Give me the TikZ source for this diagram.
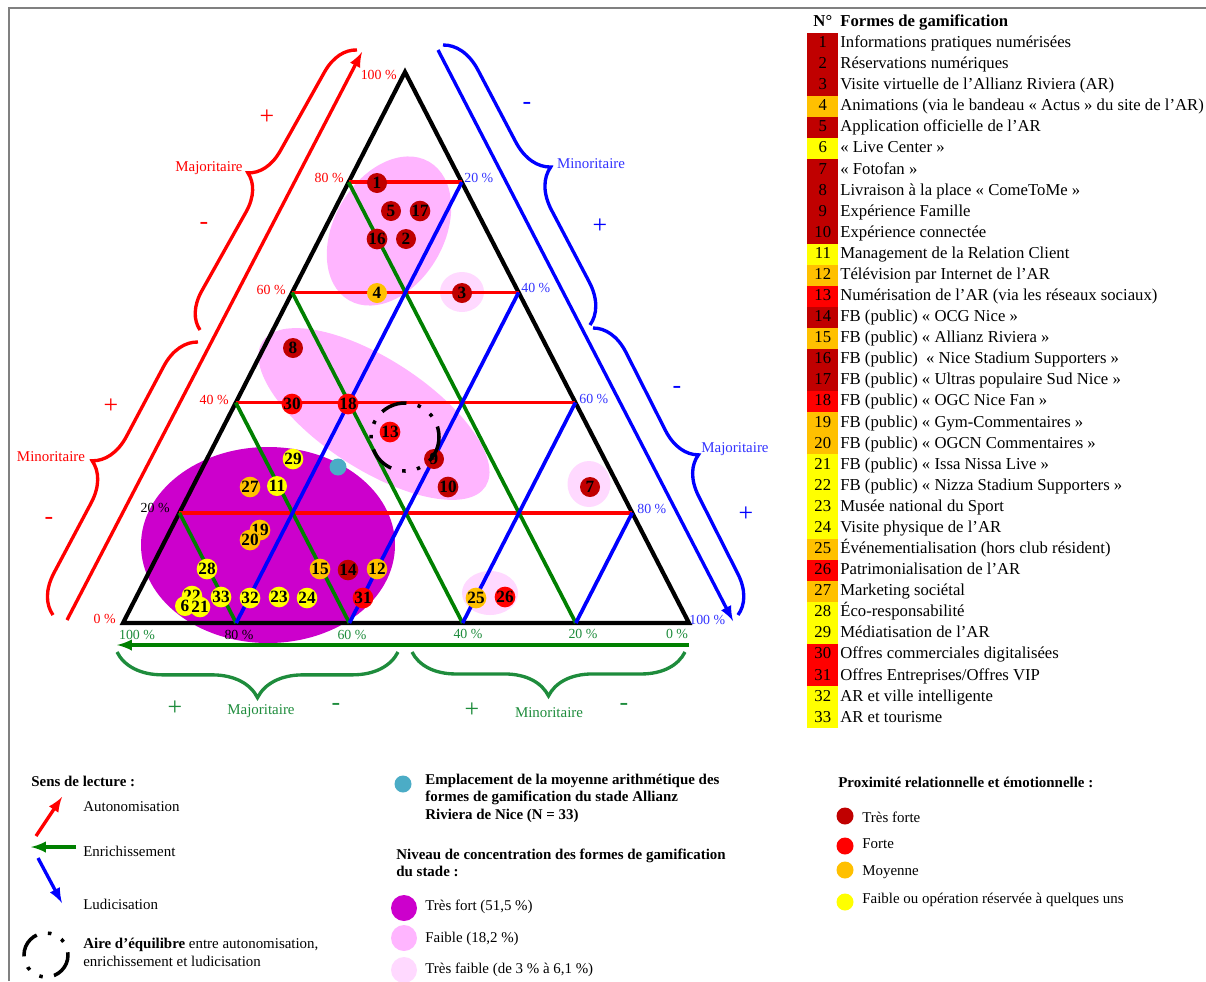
\PassOptionsToPackage{table}{xcolor}
\documentclass[tikz,border=0pt]{standalone}
\usepackage{fontspec}
\setmainfont{Liberation Serif}
\usepackage{colortbl}
\usetikzlibrary{calc,decorations.pathreplacing,positioning}

\definecolor{tresforte}{HTML}{C00000}
\definecolor{forte}{HTML}{FF0000}
\definecolor{moyenne}{HTML}{FFC000}
\definecolor{faible}{HTML}{FFFF00}
\definecolor{concfort}{HTML}{CC00CC}
\definecolor{concfaible}{HTML}{FFB5FF}
\definecolor{conctresfaible}{HTML}{FFD9FF}
\definecolor{moyen}{HTML}{4BACC6}
\definecolor{rouge}{HTML}{FF0000}
\definecolor{vert}{HTML}{008000}
\definecolor{verttxt}{HTML}{1E8C3C}
\definecolor{bleu}{HTML}{0000FF}
\definecolor{bleutxt}{HTML}{3333FF}

\tikzset{
	forme/.style={circle,inner sep=0pt,minimum size=0.4cm,font=\fontsize{9.8}{10}\selectfont\bfseries},
	puce/.style={circle,inner sep=0pt,minimum size=0.34cm},
	pct/.style={inner sep=0pt,font=\fontsize{7.9}{9}\selectfont},
	signe/.style={inner sep=0pt,font=\fontsize{14.7}{15}\selectfont},
	bras/.style={inner sep=0pt,font=\fontsize{8.5}{10}\selectfont},
	legende/.style={inner sep=0pt,anchor=west,align=left,font=\fontsize{8.5}{10.2}\selectfont},
	legendeb/.style={legende,font=\fontsize{8.5}{9.9}\selectfont\bfseries},
	grille/.style={line width=2.1pt},
	fleche/.style={->,line width=1.9pt},
	accolade/.style={decorate,line width=1.9pt},
	equilibre/.style={line width=2pt,dash pattern=on 15pt off 6.5pt on 2pt off 6.5pt on 2pt off 6.5pt}
}

\begin{document}
\begin{tikzpicture}[x=0.02cm,y=-0.02cm,>=latex]
	\useasboundingbox (0,0) rectangle (1206,981);
	\draw[gray,line width=0.8pt] (9,981) -- (9,8) -- (1206,8);

	% concentration areas
	\fill[concfort] (268,545) ellipse [x radius=127,y radius=98];
	\fill[concfaible,rotate around={60:(389,231)}] (389,231) ellipse [x radius=80,y radius=55];
	\fill[concfaible,rotate around={-33:(374,414)}] (374,414) ellipse [x radius=133,y radius=55];
	\fill[conctresfaible] (462,292) ellipse [x radius=22,y radius=20];
	\fill[conctresfaible] (589,484) ellipse [x radius=21.5,y radius=23];
	\fill[conctresfaible] (490,593) ellipse [x radius=28,y radius=22];

	% triangle
	\coordinate (A) at (123,623);
	\coordinate (B) at (689,623);
	\coordinate (C) at (405,72);
	\draw[line width=2.4pt] (A) -- (B) -- (C) -- cycle;

	\coordinate (l1) at ($(A)!0.2!(C)$);
	\coordinate (l2) at ($(A)!0.4!(C)$);
	\coordinate (l3) at ($(A)!0.6!(C)$);
	\coordinate (l4) at ($(A)!0.8!(C)$);
	\coordinate (r1) at ($(B)!0.2!(C)$);
	\coordinate (r2) at ($(B)!0.4!(C)$);
	\coordinate (r3) at ($(B)!0.6!(C)$);
	\coordinate (r4) at ($(B)!0.8!(C)$);
	\coordinate (b1) at ($(A)!0.2!(B)$);
	\coordinate (b2) at ($(A)!0.4!(B)$);
	\coordinate (b3) at ($(A)!0.6!(B)$);
	\coordinate (b4) at ($(A)!0.8!(B)$);

	% draw the grid
	\draw[grille,rouge] (l1) -- (r1);
	\draw[grille,rouge] (l2) -- (r2);
	\draw[grille,rouge] (l3) -- (r3);
	\draw[grille,rouge] (l4) -- (r4);
	\draw[grille,vert] (b1) -- (l1);
	\draw[grille,vert] (b2) -- (l2);
	\draw[grille,vert] (b3) -- (l3);
	\draw[grille,vert] (b4) -- (l4);
	\draw[grille,bleu] (b1) -- (r4);
	\draw[grille,bleu] (b2) -- (r3);
	\draw[grille,bleu] (b3) -- (r2);
	\draw[grille,bleu] (b4) -- (r1);

	% scale labels
	\node[pct,rouge,anchor=east] (ra100) at (397,75) {100 \%};
	\node[pct,rouge,anchor=east] (ra80) at (344,178) {80 \%};
	\node[pct,rouge,anchor=east] (ra60) at (286,290) {60 \%};
	\node[pct,rouge,anchor=east] (ra40) at (229,400) {40 \%};
	\node[pct,anchor=east] (ra20) at (170,508) {20 \%};
	\node[pct,rouge,anchor=east] (ra0) at (116,619) {0 \%};
	\node[pct,bleutxt,anchor=west] (lu20) at (464,178) {20 \%};
	\node[pct,bleutxt,anchor=west] (lu40) at (521,288) {40 \%};
	\node[pct,bleutxt,anchor=west] (lu60) at (579,399) {60 \%};
	\node[pct,bleutxt,anchor=west] (lu80) at (637,509) {80 \%};
	\node[pct,bleutxt,anchor=west] (lu100) at (689,620) {100 \%};
	\node[pct,verttxt] (en100) at (137,635) {100 \%};
	\node[pct] (en80) at (239,635) {80 \%};
	\node[pct,verttxt] (en60) at (352,635) {60 \%};
	\node[pct,verttxt] (en40) at (468,634) {40 \%};
	\node[pct,verttxt] (en20) at (583,634) {20 \%};
	\node[pct,verttxt] (en0) at (677,634) {0 \%};

	% reading arrows
	\coordinate (autoS) at (67,620);
	\coordinate (autoE) at (362,52);
	\coordinate (ludiS) at (438,50);
	\coordinate (ludiE) at (733,621);
	\coordinate (enriS) at (689,645);
	\coordinate (enriE) at (117,645);
	\draw[fleche,rouge] (autoS) -- (autoE);
	\draw[fleche,bleu] (ludiS) -- (ludiE);
	\draw[fleche,vert] (enriS) -- (enriE);

	% braces
	\draw[accolade,rouge,decoration={brace,amplitude=20pt}] (200,330) -- (357,50);
	\draw[accolade,rouge,decoration={brace,amplitude=21.5pt}] (53,615) -- (198,342);
	\draw[accolade,bleu,decoration={brace,amplitude=22pt}] (443,45) -- (590,325);
	\draw[accolade,bleu,decoration={brace,amplitude=21pt}] (593,328) -- (738,615);
	\draw[accolade,verttxt,decoration={brace,mirror,amplitude=26pt}] (117,652) -- (398,652);
	\draw[accolade,verttxt,decoration={brace,mirror,amplitude=25pt}] (412,652) -- (685,652);

	\node[signe,rouge] (rp1) at (267,117) {+};
	\node[signe,rouge] (rm1) at (204,226) {-};
	\node[bras,rouge] (rmaj) at (209,168) {Majoritaire};
	\node[signe,rouge] (rp2) at (111,406) {+};
	\node[signe,rouge] (rm2) at (49,521) {-};
	\node[bras,rouge] (rmin) at (51,457) {Minoritaire};
	\node[signe,bleu] (bm1) at (527,106) {-};
	\node[bras,bleutxt] (bmin) at (591,164) {Minoritaire};
	\node[signe,bleu] (bp1) at (600,226) {+};
	\node[signe,bleu] (bm2) at (677,390) {-};
	\node[bras,bleutxt] (bmaj) at (735,449) {Majoritaire};
	\node[signe,bleu] (bp2) at (746,514) {+};
	\node[signe,verttxt] (vp1) at (175,708) {+};
	\node[bras,verttxt] (vmaj) at (261,711) {Majoritaire};
	\node[signe,verttxt] (vm1) at (336,707) {-};
	\node[signe,verttxt] (vp2) at (472,710) {+};
	\node[bras,verttxt] (vmin) at (549,713) {Minoritaire};
	\node[signe,verttxt] (vm2) at (624,707) {-};

	% forms of gamification
	\node[puce,fill=moyen] (moy) at (338,467) {};
	\node[forme,fill=tresforte] (p1) at (377,183) {1};
	\node[forme,fill=tresforte] (p5) at (391,211) {5};
	\node[forme,fill=tresforte] (p17) at (420,211) {17};
	\node[forme,fill=tresforte] (p16) at (377,239) {16};
	\node[forme,fill=tresforte] (p2) at (406,239) {2};
	\node[forme,fill=moyenne] (p4) at (377,293) {4};
	\node[forme,fill=tresforte] (p3) at (462,293) {3};
	\node[forme,fill=tresforte] (p8) at (293,348) {8};
	\node[forme,fill=forte] (p30) at (292,404) {30};
	\node[forme,fill=forte] (p18) at (348,404) {18};
	\node[forme,fill=forte] (p13) at (390,432) {13};
	\node[forme,fill=tresforte] (p9) at (434,459) {9};
	\node[forme,fill=tresforte] (p10) at (448,487) {10};
	\node[forme,fill=tresforte] (p7) at (590,487) {7};
	\node[forme,fill=faible] (p29) at (293,459) {29};
	\node[forme,fill=moyenne] (p27) at (250,487) {27};
	\node[forme,fill=faible] (p11) at (277,486) {11};
	\node[forme,fill=moyenne] (p19) at (260,530) {19};
	\node[forme,fill=moyenne] (p20) at (250,540) {20};
	\node[forme,fill=faible] (p28) at (207,569) {28};
	\node[forme,fill=moyenne] (p15) at (320,569) {15};
	\node[forme,fill=tresforte] (p14) at (348,570) {14};
	\node[forme,fill=moyenne] (p12) at (377,569) {12};
	\node[forme,fill=faible] (p22) at (192,596) {22};
	\node[forme,fill=faible] (p6) at (185,606) {6};
	\node[forme,fill=faible] (p21) at (200,607) {21};
	\node[forme,fill=faible] (p33) at (221,597) {33};
	\node[forme,fill=faible] (p32) at (250,598) {32};
	\node[forme,fill=faible] (p23) at (279,597) {23};
	\node[forme,fill=faible] (p24) at (307,598) {24};
	\node[forme,fill=forte] (p31) at (363,598) {31};
	\node[forme,fill=moyenne] (p25) at (476,598) {25};
	\node[forme,fill=forte] (p26) at (505,597) {26};
	\draw[equilibre] (405,437) circle [radius=34];

	% list of the forms
	\node (liste)[anchor=north west,inner sep=0pt,font=\fontsize{9.5}{12}\selectfont] at (807,11.3){%
		\setlength{\tabcolsep}{0pt}%
		\begin{tabular}{>{\centering\arraybackslash}p{17.6pt}>{\hspace{1.2pt}}l}
		\textbf{N°} & \textbf{Formes de gamification}\\
		\cellcolor{tresforte}1 & Informations pratiques numérisées\\
		\cellcolor{tresforte}2 & Réservations numériques\\
		\cellcolor{tresforte}3 & Visite virtuelle de l'Allianz Riviera (AR)\\
		\cellcolor{moyenne}4 & Animations (via le bandeau « Actus » du site de l'AR)\\
		\cellcolor{tresforte}5 & Application officielle de l'AR\\
		\cellcolor{faible}6 & « Live Center »\\
		\cellcolor{tresforte}7 & « Fotofan »\\
		\cellcolor{tresforte}8 & Livraison à la place « ComeToMe »\\
		\cellcolor{tresforte}9 & Expérience Famille\\
		\cellcolor{tresforte}10 & Expérience connectée\\
		\cellcolor{faible}11 & Management de la Relation Client\\
		\cellcolor{moyenne}12 & Télévision par Internet de l'AR\\
		\cellcolor{forte}13 & Numérisation de l'AR (via les réseaux sociaux)\\
		\cellcolor{tresforte}14 & FB (public) « OCG Nice »\\
		\cellcolor{moyenne}15 & FB (public) « Allianz Riviera »\\
		\cellcolor{tresforte}16 & FB (public)\ \ « Nice Stadium Supporters »\\
		\cellcolor{tresforte}17 & FB (public) « Ultras populaire Sud Nice »\\
		\cellcolor{forte}18 & FB (public) « OGC Nice Fan »\\
		\cellcolor{moyenne}19 & FB (public) « Gym-Commentaires »\\
		\cellcolor{moyenne}20 & FB (public) « OGCN Commentaires »\\
		\cellcolor{faible}21 & FB (public) « Issa Nissa Live »\\
		\cellcolor{faible}22 & FB (public) « Nizza Stadium Supporters »\\
		\cellcolor{faible}23 & Musée national du Sport\\
		\cellcolor{faible}24 & Visite physique de l'AR\\
		\cellcolor{moyenne}25 & Événementialisation (hors club résident)\\
		\cellcolor{forte}26 & Patrimonialisation de l'AR\\
		\cellcolor{moyenne}27 & Marketing sociétal\\
		\cellcolor{faible}28 & Éco-responsabilité\\
		\cellcolor{faible}29 & Médiatisation de l'AR\\
		\cellcolor{forte}30 & Offres commerciales digitalisées\\
		\cellcolor{forte}31 & Offres Entreprises/Offres VIP\\
		\cellcolor{faible}32 & AR et ville intelligente\\
		\cellcolor{faible}33 & AR et tourisme\\
		\end{tabular}
	};

	% reading legend
	\node[legendeb] (sens) at (31,781) {Sens de lecture :};
	\coordinate (sautoS) at (36,836);
	\coordinate (sautoE) at (62,797);
	\coordinate (senriS) at (76,847);
	\coordinate (senriE) at (31,847);
	\coordinate (sludiS) at (38,858);
	\coordinate (sludiE) at (62,903);
	\draw[fleche,rouge] (sautoS) -- (sautoE);
	\draw[fleche,vert] (senriS) -- (senriE);
	\draw[fleche,bleu] (sludiS) -- (sludiE);
	\node[legende] (auto) at (83,807) {Autonomisation};
	\node[legende] (enri) at (83,851) {Enrichissement};
	\node[legende] (ludi) at (83,904) {Ludicisation};
	\draw[equilibre] (46,955) circle [radius=22];
	\node[legende] (aire) at (83,952) {\textbf{Aire d’équilibre} entre autonomisation,\\enrichissement et ludicisation};

	% concentration legend
	\node[puce,fill=moyen] (lmoy) at (403,784) {};
	\node[legendeb] (tmoy) at (425,798) {Emplacement de la moyenne arithmétique des\\formes de gamification du stade Allianz\\Riviera de Nice (N = 33)};
	\node[legendeb,font=\fontsize{8.5}{9.6}\selectfont\bfseries] (niveau) at (396,863) {Niveau de concentration des formes de gamification\\du stade :};
	\node[puce,minimum size=0.52cm,fill=concfort] (lfort) at (404,908) {};
	\node[puce,minimum size=0.52cm,fill=concfaible] (lfaible) at (404,938) {};
	\node[puce,minimum size=0.52cm,fill=conctresfaible] (ltfaible) at (404,970) {};
	\node[legende] (tfort) at (425,907) {Très fort (51,5 \%)};
	\node[legende] (tfaible) at (425,939) {Faible (18,2 \%)};
	\node[legende] (ttfaible) at (425,970) {Très faible (de 3 \% à 6,1 \%)};

	% proximity legend
	\node[legendeb] (proxi) at (838,782) {Proximité relationnelle et émotionnelle :};
	\node[puce,fill=tresforte] (ltf) at (845,816) {};
	\node[puce,fill=forte] (lf) at (845,846) {};
	\node[puce,fill=moyenne] (lm) at (845,870) {};
	\node[puce,fill=faible] (lfa) at (845,902) {};
	\node[legende] (ttf) at (862,817) {Très forte};
	\node[legende] (tf) at (862,844) {Forte};
	\node[legende] (tm) at (862,872) {Moyenne};
	\node[legende] (tfa) at (862,900) {Faible ou opération réservée à quelques uns};
\end{tikzpicture}
\end{document}
